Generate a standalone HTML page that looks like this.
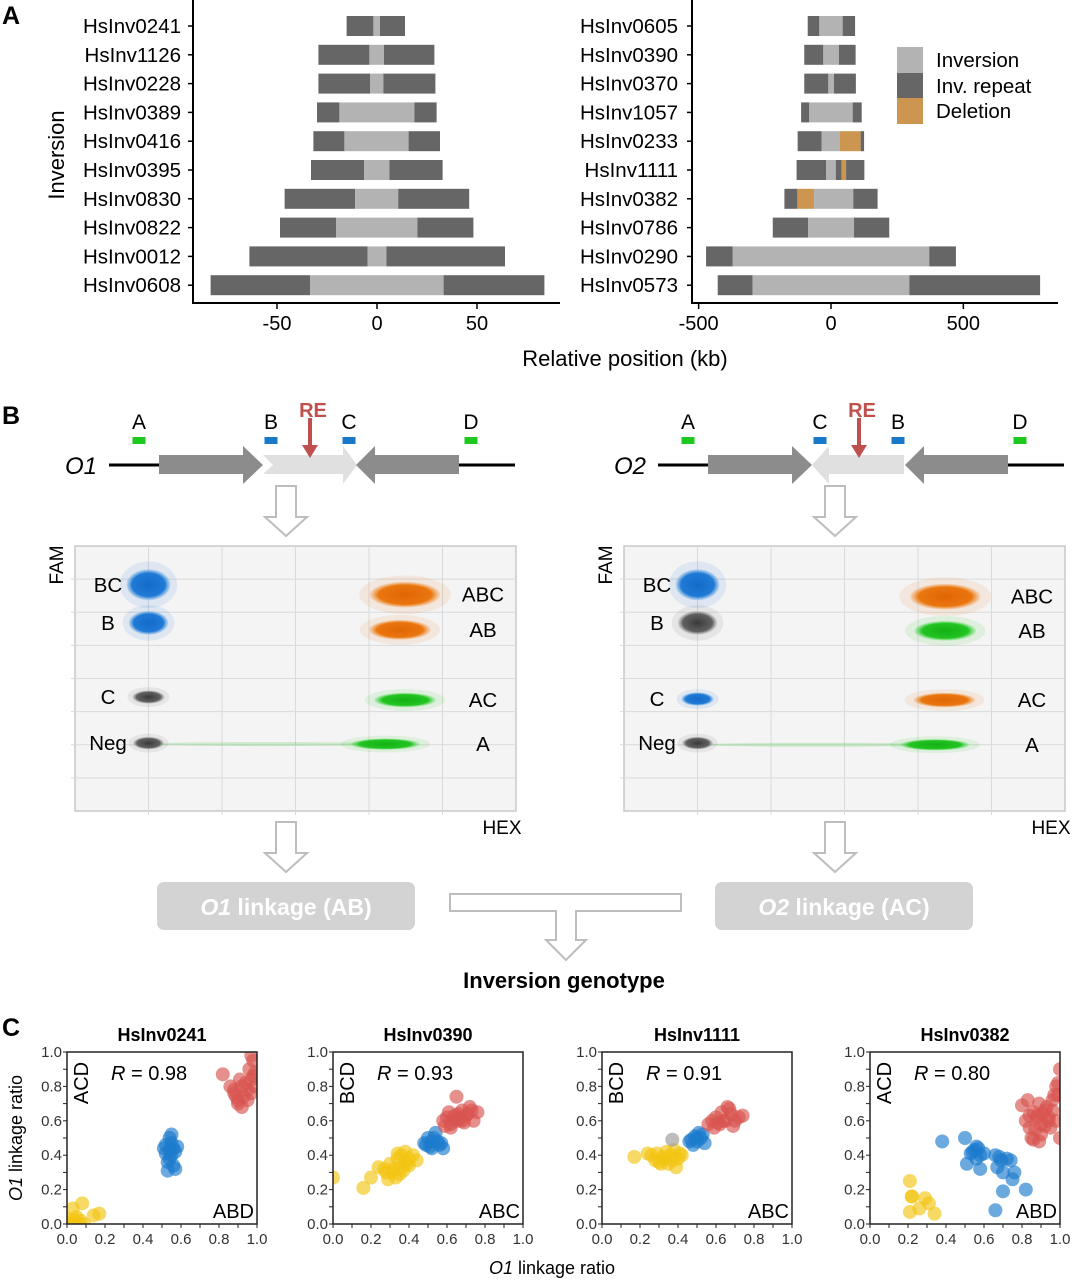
<!DOCTYPE html>
<html><head><meta charset="utf-8"><style>
body{margin:0;background:#fff;}
svg{display:block;font-family:"Liberation Sans",sans-serif;}
</style></head><body>
<svg id="fig" width="1074" height="1280" viewBox="0 0 1074 1280" xmlns="http://www.w3.org/2000/svg">
<defs>
<radialGradient id="gblue"><stop offset="0" stop-color="#156ac8" stop-opacity="1"/><stop offset="0.75" stop-color="#1f7ad6" stop-opacity="1"/><stop offset="1" stop-color="#3a8fe0" stop-opacity="0.15"/></radialGradient>
<radialGradient id="gorange"><stop offset="0" stop-color="#e06505" stop-opacity="1"/><stop offset="0.75" stop-color="#ea760f" stop-opacity="1"/><stop offset="1" stop-color="#f08a2a" stop-opacity="0.15"/></radialGradient>
<radialGradient id="ggreen"><stop offset="0" stop-color="#15b015" stop-opacity="1"/><stop offset="0.75" stop-color="#22c422" stop-opacity="1"/><stop offset="1" stop-color="#44d844" stop-opacity="0.15"/></radialGradient>
<radialGradient id="ggray"><stop offset="0" stop-color="#3a3a3a" stop-opacity="1"/><stop offset="0.75" stop-color="#5a5a5a" stop-opacity="0.95"/><stop offset="1" stop-color="#888" stop-opacity="0.15"/></radialGradient>
</defs>

<text x="2" y="24" font-size="25" font-weight="bold">A</text>
<text x="2" y="424" font-size="25" font-weight="bold">B</text>
<text x="2" y="1036" font-size="25" font-weight="bold">C</text>

<g id="panelA"></g>
<text x="0" y="0" font-size="22" text-anchor="middle" transform="translate(64,155) rotate(-90)">Inversion</text>
<text x="625" y="366" font-size="22" text-anchor="middle">Relative position (kb)</text>
<g>
<rect x="897" y="47" width="26" height="26" fill="#b3b3b3"/>
<rect x="897" y="73" width="26" height="25" fill="#666666"/>
<rect x="897" y="98" width="26" height="26" fill="#cd9650"/>
<text x="936" y="67" font-size="20.5">Inversion</text>
<text x="936" y="93" font-size="20.5">Inv. repeat</text>
<text x="936" y="118" font-size="20.5">Deletion</text>
</g>

<g id="panelB"></g>

<g>
<rect x="157" y="882" width="258" height="48" rx="7" fill="#d3d3d3"/>
<text x="286" y="915" font-size="23" font-weight="bold" fill="#fff" text-anchor="middle"><tspan font-style="italic">O1</tspan> linkage (AB)</text>
<rect x="715" y="882" width="258" height="48" rx="7" fill="#d3d3d3"/>
<text x="844" y="915" font-size="23" font-weight="bold" fill="#fff" text-anchor="middle"><tspan font-style="italic">O2</tspan> linkage (AC)</text>
<path d="M450,894 L681,894 L681,911 L576,911 L576,940 L586,940 L566,960 L546,940 L556,940 L556,911 L450,911 Z" fill="#fff" stroke="#bdbdbd" stroke-width="2"/>
<text x="564" y="988" font-size="22" font-weight="bold" text-anchor="middle">Inversion genotype</text>
</g>

<g id="panelC"></g>
<text x="0" y="0" font-size="18" text-anchor="middle" transform="translate(22,1138) rotate(-90)"><tspan font-style="italic">O1</tspan>  linkage ratio</text>
<text x="552" y="1274" font-size="18" text-anchor="middle"><tspan font-style="italic">O1</tspan>  linkage ratio</text>
</svg>

<script>
// ===== Panel A data =====
const leftNames = ["HsInv0241","HsInv1126","HsInv0228","HsInv0389","HsInv0416","HsInv0395","HsInv0830","HsInv0822","HsInv0012","HsInv0608"];
const leftSegs = [
 [[-15.2,-1.8,"R"],[-1.8,1.5,"I"],[1.5,14,"R"]],
 [[-29.3,-3.8,"R"],[-3.8,3.5,"I"],[3.5,28.7,"R"]],
 [[-29.3,-3.5,"R"],[-3.5,3.2,"I"],[3.2,29.2,"R"]],
 [[-30,-18.8,"R"],[-18.8,18.7,"I"],[18.7,29.8,"R"]],
 [[-31.8,-16.3,"R"],[-16.3,15.8,"I"],[15.8,31.5,"R"]],
 [[-33,-6.5,"R"],[-6.5,6.2,"I"],[6.2,32.8,"R"]],
 [[-46.2,-10.9,"R"],[-10.9,10.6,"I"],[10.6,46.1,"R"]],
 [[-48.5,-20.5,"R"],[-20.5,20.2,"I"],[20.2,48.2,"R"]],
 [[-63.8,-4.7,"R"],[-4.7,4.7,"I"],[4.7,64,"R"]],
 [[-83.2,-33.5,"R"],[-33.5,33.3,"I"],[33.3,83.7,"R"]]
];
const leftTicks = [-50,0,50];
const rightNames = ["HsInv0605","HsInv0390","HsInv0370","HsInv1057","HsInv0233","HsInv1111","HsInv0382","HsInv0786","HsInv0290","HsInv0573"];
const rightSegs = [
 [[-88,-44,"R"],[-44,44,"I"],[44,91,"R"]],
 [[-101,-29,"R"],[-29,30,"I"],[30,93,"R"]],
 [[-101,-10,"R"],[-10,11,"I"],[11,94,"R"]],
 [[-113,-82,"R"],[-82,82,"I"],[82,116,"R"]],
 [[-126,-35,"R"],[-35,34,"I"],[34,112,"D"],[112,125,"R"]],
 [[-130,-18,"R"],[-18,18,"I"],[18,40,"R"],[40,57,"D"],[57,126,"R"]],
 [[-176,-127,"R"],[-127,-64,"D"],[-64,84,"I"],[84,176,"R"]],
 [[-220,-86,"R"],[-86,87,"I"],[87,220,"R"]],
 [[-472,-371,"R"],[-371,371,"I"],[371,472,"R"]],
 [[-428,-296,"R"],[-296,296,"I"],[296,790,"R"]]
];
const rightTicks = [-500,0,500];

// ===== Panel B data (ddPCR clusters, HEX/FAM amplitude units) =====
const ddCats = ["BC","B","C","Neg","ABC","AB","AC","A"];
const dd1Hex = [1000,1000,1000,1000,4490,4420,4490,4220];
const dd1Fam = [6830,5680,3440,2050,6530,5470,3350,2020];
const dd1Col = ["blue","blue","gray","gray","orange","orange","green","green"];
const dd2Hex = [1000,1000,1000,1000,4370,4370,4360,4230];
const dd2Fam = [6830,5680,3380,2050,6470,5440,3350,2000];
const dd2Col = ["blue","gray","blue","gray","orange","green","orange","green"];
const ddSpreadHex = [300,270,220,210,480,420,420,470];
const ddSpreadFam = [470,360,200,190,390,300,220,170];

// ===== Panel C data =====
const cTitles = ["HsInv0241","HsInv0390","HsInv1111","HsInv0382"];
const cR = ["0.98","0.93","0.91","0.80"];
const cTopLabel = ["ACD","BCD","BCD","ACD"];
const cBotLabel = ["ABD","ABC","ABC","ABD"];
const cTicks = [0,0.2,0.4,0.6,0.8,1.0];
const p1RedX=[0.86,0.88,0.9,0.92,0.95,0.97,0.99,0.9,0.93,0.96,0.98,0.88,0.91,0.94,0.97,0.99,0.89,0.92,0.95,0.98,0.97,0.82];
const p1RedY=[0.8,0.76,0.72,0.8,0.78,0.84,0.88,0.7,0.74,0.9,0.95,0.78,0.84,0.82,0.76,0.8,0.74,0.68,0.72,0.86,0.98,0.87];
const p1BlueX=[0.52,0.54,0.56,0.55,0.53,0.57,0.51,0.55,0.54,0.56,0.58,0.53,0.55,0.52,0.57,0.54];
const p1BlueY=[0.46,0.5,0.44,0.4,0.36,0.42,0.44,0.47,0.38,0.34,0.45,0.31,0.52,0.41,0.32,0.43];
const p1YelX=[0.02,0.04,0.06,0.08,0.03,0.05,0.01,0.07,0.14,0.17,0.09,0.0,0.03];
const p1YelY=[0.0,0.02,0.0,0.12,0.09,0.04,0.01,0.02,0.05,0.06,0.0,0.03,0.0];
const p2YelX=[0.0,0.16,0.2,0.24,0.28,0.3,0.32,0.34,0.36,0.38,0.4,0.42,0.44,0.33,0.35,0.37,0.39,0.31,0.29,0.36,0.34,0.4,0.38,0.27];
const p2YelY=[0.27,0.21,0.27,0.33,0.3,0.35,0.32,0.38,0.4,0.36,0.34,0.4,0.37,0.27,0.29,0.31,0.35,0.3,0.26,0.33,0.41,0.38,0.42,0.32];
const p2BlueX=[0.48,0.5,0.52,0.54,0.56,0.58,0.51,0.53,0.55,0.49,0.57,0.52];
const p2BlueY=[0.47,0.5,0.48,0.53,0.46,0.44,0.45,0.5,0.48,0.46,0.47,0.44];
const p2RedX=[0.58,0.6,0.62,0.64,0.66,0.68,0.7,0.72,0.74,0.76,0.61,0.63,0.65,0.67,0.69,0.71,0.73,0.64,0.59,0.62,0.66,0.68];
const p2RedY=[0.6,0.62,0.58,0.61,0.64,0.6,0.63,0.68,0.6,0.65,0.65,0.6,0.74,0.62,0.59,0.64,0.66,0.63,0.57,0.56,0.6,0.66];
const p3YelX=[0.17,0.24,0.26,0.28,0.3,0.32,0.34,0.36,0.38,0.4,0.42,0.35,0.37,0.39,0.41,0.31,0.33,0.29];
const p3YelY=[0.39,0.41,0.4,0.37,0.36,0.39,0.42,0.4,0.43,0.38,0.4,0.35,0.37,0.33,0.41,0.35,0.38,0.41];
const p3GrayX=[0.37];
const p3GrayY=[0.49];
const p3BlueX=[0.47,0.49,0.5,0.52,0.54,0.48,0.51,0.53,0.5,0.46];
const p3BlueY=[0.49,0.51,0.48,0.5,0.47,0.46,0.53,0.52,0.5,0.48];
const p3RedX=[0.56,0.58,0.6,0.62,0.64,0.66,0.68,0.7,0.72,0.74,0.59,0.63,0.65,0.67,0.61,0.69];
const p3RedY=[0.58,0.6,0.62,0.58,0.6,0.68,0.64,0.6,0.62,0.63,0.56,0.65,0.6,0.67,0.59,0.57];
const p4YelX=[0.21,0.22,0.21,0.26,0.29,0.31,0.34,0.22];
const p4YelY=[0.25,0.16,0.07,0.09,0.15,0.12,0.06,0.16];
const p4BlueX=[0.38,0.5,0.51,0.53,0.55,0.57,0.58,0.56,0.58,0.54,0.66,0.67,0.68,0.7,0.72,0.75,0.76,0.7,0.82,0.66,0.69,0.74,0.6,0.56];
const p4BlueY=[0.48,0.5,0.35,0.41,0.43,0.44,0.4,0.38,0.32,0.42,0.4,0.33,0.39,0.3,0.38,0.26,0.3,0.19,0.2,0.08,0.37,0.37,0.41,0.45];
const p4RedX=[0.8,0.82,0.84,0.86,0.88,0.9,0.92,0.94,0.96,0.98,1.0,0.85,0.87,0.89,0.91,0.93,0.95,0.97,0.99,0.83,0.86,0.9,0.94,0.98,1.0,0.88,0.92,0.96,0.99,0.84,0.89];
const p4RedY=[0.69,0.6,0.56,0.65,0.62,0.58,0.66,0.62,0.72,0.6,0.9,0.5,0.55,0.7,0.64,0.68,0.56,0.75,0.82,0.72,0.49,0.52,0.6,0.8,0.5,0.63,0.57,0.66,0.75,0.63,0.48];

const NS="http://www.w3.org/2000/svg";
function mk(tag, attrs, parent){
  const e=document.createElementNS(NS,tag);
  for(const k in attrs) e.setAttribute(k,attrs[k]);
  parent.appendChild(e);
  return e;
}
const segColor={R:"#666666",I:"#b3b3b3",D:"#cd9650"};

// ---------- Panel A ----------
function drawBars(g, names, segs, ticks, axX, axR, zeroX, pxPerKb, labelX, prefix){
  const x = v => zeroX + v*pxPerKb;
  const rowY = i => 26 + i*28.8;
  const axis = mk("path",{d:`M${axX},0 L${axX},303 L${axR},303`,fill:"none",stroke:"#000","stroke-width":2},g);
  
  
  names.forEach((n,i)=>{
    const t=mk("text",{x:labelX,y:rowY(i)+7,"font-size":20.5,"text-anchor":"end"},g);
    t.textContent=n;
    
    
    const tk=mk("line",{x1:axX-5,x2:axX,y1:rowY(i),y2:rowY(i),stroke:"#000","stroke-width":1.5},g);
    
    
    segs[i].forEach(s=>{
      const r=mk("rect",{x:x(s[0]),y:rowY(i)-10,width:x(s[1])-x(s[0]),height:20,fill:segColor[s[2]]},g);
      
      
    });
  });
  ticks.forEach(v=>{
    const l=mk("line",{x1:x(v),x2:x(v),y1:303,y2:309,stroke:"#000","stroke-width":1.5},g);
    
    
    const t=mk("text",{x:x(v),y:330,"font-size":20,"text-anchor":"middle"},g);
    t.textContent=String(v);
    
    
  });
}
const gA=document.getElementById("panelA");
drawBars(gA,leftNames,leftSegs,leftTicks,193,560,377,2.0,181,"left-bar-chart");
drawBars(gA,rightNames,rightSegs,rightTicks,692,1058,831,0.2647,678,"right-bar-chart");

// ---------- Panel B ----------
const gB=document.getElementById("panelB");
function downArrow(cx,top,parent,name){
  const p=mk("path",{d:`M${cx-10},${top} L${cx+10},${top} L${cx+10},${top+31} L${cx+21},${top+31} L${cx},${top+50} L${cx-21},${top+31} L${cx-10},${top+31} Z`,fill:"#fff",stroke:"#bdbdbd","stroke-width":2},parent);
  
  
}
function diagram(off,orient,label){
  const g=mk("g",{},gB);
  
  
  const t=mk("text",{x:65+off,y:474,"font-size":24,"font-style":"italic"},g);
  t.textContent=label;
  
  
  const ln=mk("path",{d:`M${109+off},465 L${160+off},465 M${458+off},465 L${515+off},465`,stroke:"#000","stroke-width":3},g);
  
  
  const a1=mk("path",{d:`M${159+off},455 L${243+off},455 L${243+off},446 L${263+off},465 L${243+off},484 L${243+off},474 L${159+off},474 Z`,fill:"#8c8c8c"},g);
  
  
  let d2 = orient===1
    ? `M${263+off},455 L${343+off},455 L${343+off},446 L${357+off},465 L${343+off},484 L${343+off},474 L${263+off},474 L${273+off},465 Z`
    : `M${355+off},455 L${280+off},455 L${280+off},446 L${263+off},465 L${280+off},484 L${280+off},474 L${355+off},474 Z`;
  const a2=mk("path",{d:d2,fill:"#e0e0e0"},g);
  
  
  const a3=mk("path",{d:`M${459+off},455 L${375+off},455 L${375+off},446 L${356+off},465 L${375+off},484 L${375+off},474 L${459+off},474 Z`,fill:"#8c8c8c"},g);
  
  
  const probes = orient===1 ? [["A",139,"#1ec81e"],["B",271,"#1a78c8"],["C",349,"#1a78c8"],["D",471,"#1ec81e"]]
                            : [["A",139,"#1ec81e"],["C",271,"#1a78c8"],["B",349,"#1a78c8"],["D",471,"#1ec81e"]];
  probes.forEach(p=>{
    const r=mk("rect",{x:p[1]-6.5+off,y:437,width:13,height:7,fill:p[2]},g);
    
    
    const tx=mk("text",{x:p[1]+off,y:429,"font-size":21,"text-anchor":"middle"},g);
    tx.textContent=p[0];
    
    
  });
  const re=mk("path",{d:`M${308+off},418 L${312+off},418 L${312+off},445 L${318+off},445 L${310+off},458 L${302+off},445 L${308+off},445 Z`,fill:"#c0504d"},g);
  
  
  const ret=mk("text",{x:313+off,y:417,"font-size":20,"font-weight":"bold",fill:"#c0504d","text-anchor":"middle"},g);
  ret.textContent="RE";
  
  
  downArrow(286+off,486,g,'flow-arrow-to-plot');
  downArrow(286+off,822,g,'flow-arrow-to-linkage');
}
diagram(0,1,"O1");
diagram(549,2,"O2");

const fillFor={blue:"url(#gblue)",orange:"url(#gorange)",green:"url(#ggreen)",gray:"url(#ggray)"};
const solidFor={blue:"#1f7ad6",orange:"#ea760f",green:"#22c422",gray:"#666"};
function ddPlot(off,hex,fam,col,name){
  const g=mk("g",{},gB);
  
  
  const L=75+off, T=546, W=441, H=265;
  const xs=v=>L+v*W/6000, ys=v=>T+H-v*H/8000;
  const bg=mk("rect",{x:L,y:T,width:W,height:H,fill:"#f4f4f4",stroke:"#c8c8c8","stroke-width":1.5},g);
  
  
  for(let k=1;k<6;k++){
    const gl=mk("line",{x1:xs(k*1000),x2:xs(k*1000),y1:T,y2:T+H+4,stroke:"#dadada","stroke-width":1},g);
    
    
  }
  for(let k=1;k<8;k++){
    const gl=mk("line",{x1:L-4,x2:L+W,y1:ys(k*1000),y2:ys(k*1000),stroke:"#dadada","stroke-width":1},g);
    
    
  }
  const rain=mk("ellipse",{cx:xs((hex[3]+hex[7])/2),cy:ys(fam[7]),rx:(xs(hex[7])-xs(hex[3]))/2,ry:2,fill:"#22c422",opacity:0.2},g);
  
  
  hex.forEach((h,i)=>{
    const halo=mk("ellipse",{cx:xs(h),cy:ys(fam[i]),rx:ddSpreadHex[i]*W/6000*1.3,ry:ddSpreadFam[i]*H/8000*1.5,fill:solidFor[col[i]],opacity:0.1},g);
    
    
    const c=mk("ellipse",{cx:xs(h),cy:ys(fam[i]),rx:ddSpreadHex[i]*W/6000,ry:ddSpreadFam[i]*H/8000,fill:fillFor[col[i]]},g);
    
    
    const left=i<4;
    const t=mk("text",{x:left?L+33:L+W-33,y:ys(fam[i])+7,"font-size":20.5,"text-anchor":"middle"},g);
    t.textContent=ddCats[i];
    
    
  });
  const fy=mk("text",{x:0,y:0,"font-size":19,"text-anchor":"middle",transform:`translate(${L-12},${T+19}) rotate(-90)`},g);
  fy.textContent="FAM";
  
  
  const hx=mk("text",{x:L+W-14,y:834,"font-size":19,"text-anchor":"middle"},g);
  hx.textContent="HEX";
  
  
}
ddPlot(0,dd1Hex,dd1Fam,dd1Col,"o1-ddpcr-plot");
ddPlot(549,dd2Hex,dd2Fam,dd2Col,"o2-ddpcr-plot");

// ---------- Panel C ----------
const gC=document.getElementById("panelC");
const cLeft=[67,333,602,870];
const cSeries=[
 [[p1YelX,p1YelY,"#f2c413"],[p1BlueX,p1BlueY,"#1c7bcc"],[p1RedX,p1RedY,"#d95550"]],
 [[p2YelX,p2YelY,"#f2c413"],[p2BlueX,p2BlueY,"#1c7bcc"],[p2RedX,p2RedY,"#d95550"]],
 [[p3YelX,p3YelY,"#f2c413"],[p3GrayX,p3GrayY,"#9a9a9a"],[p3BlueX,p3BlueY,"#1c7bcc"],[p3RedX,p3RedY,"#d95550"]],
 [[p4YelX,p4YelY,"#f2c413"],[p4BlueX,p4BlueY,"#1c7bcc"],[p4RedX,p4RedY,"#d95550"]]
];
cTitles.forEach((title,pi)=>{
  const g=mk("g",{},gC);
  
  
  const L=cLeft[pi], T=1052, W=190, H=172;
  const xs=v=>L+v*W, ys=v=>T+H-v*H;
  const clip=mk("clipPath",{id:"clip"+pi},g);
  mk("rect",{x:L,y:T,width:W,height:H},clip);
  const tt=mk("text",{x:L+W/2,y:1041,"font-size":18,"font-weight":"bold","text-anchor":"middle"},g);
  tt.textContent=title;
  
  
  const pts=mk("g",{"clip-path":`url(#clip${pi})`},g);
  cSeries[pi].forEach(s=>{
    s[0].forEach((xv,k)=>{
      const c=mk("circle",{cx:xs(xv),cy:ys(s[1][k]),r:7,fill:s[2],opacity:0.65},pts);
      
      
    });
  });
  const box=mk("rect",{x:L,y:T,width:W,height:H,fill:"none",stroke:"#222","stroke-width":1.5},g);
  
  
  for(let k=0;k<=10;k++){
    const v=k/10;
    const ty=mk("line",{x1:L-4,x2:L,y1:ys(v),y2:ys(v),stroke:"#222","stroke-width":1},g);
    
    
    const tx=mk("line",{x1:xs(v),x2:xs(v),y1:T+H,y2:T+H+4,stroke:"#222","stroke-width":1},g);
    
    
  }
  cTicks.forEach(v=>{
    const a=mk("text",{x:L-5,y:ys(v)+5,"font-size":15,"text-anchor":"end",fill:"#333"},g);
    a.textContent=v.toFixed(1);
    
    
    const b=mk("text",{x:xs(v),y:T+H+20,"font-size":15,"text-anchor":"middle",fill:"#333"},g);
    b.textContent=v.toFixed(1);
    
    
  });
  const r=mk("text",{x:L+44,y:1080,"font-size":20},g);
  r.innerHTML='<tspan font-style="italic">R</tspan> = '+cR[pi];
  
  
  const tl=mk("text",{x:0,y:0,"font-size":20,"text-anchor":"middle",transform:`translate(${L+21},${T+31}) rotate(-90)`},g);
  tl.textContent=cTopLabel[pi];
  
  
  const bl=mk("text",{x:L+W-3,y:T+H-6,"font-size":20,"text-anchor":"end"},g);
  bl.textContent=cBotLabel[pi];
  
  
});
</script>
</body></html>
